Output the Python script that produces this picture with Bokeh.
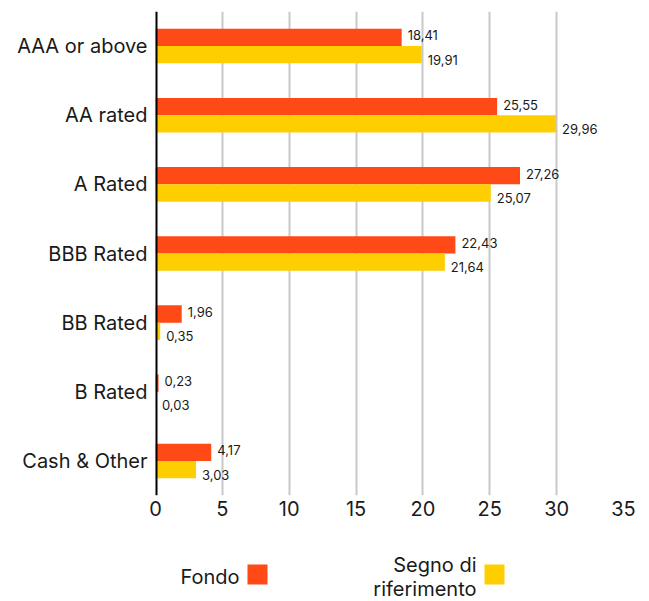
from bokeh.plotting import figure
from bokeh.models import FactorRange, Range1d, ColumnDataSource, Span, FixedTicker
from bokeh.layouts import column
from bokeh.transform import dodge
from bokeh.core.properties import value
from bokeh.embed import file_html
from bokeh.resources import INLINE

categories = ["AAA or above", "AA rated", "A Rated", "BBB Rated", "BB Rated", "B Rated", "Cash & Other"]
fondo = [18.41, 25.55, 27.26, 22.43, 1.96, 0.23, 4.17]
riferimento = [19.91, 29.96, 25.07, 21.64, 0.35, 0.03, 3.03]
series_names = ["Fondo", "Segno di riferimento"]
x_ticks = [0, 5, 10, 15, 20, 25, 30, 35]

ORANGE = "#FF4A17"
YELLOW = "#FFCE00"
FONT = "Inter"
TXT = "#1a1a1a"

def fmt(v):
    return f"{v:.2f}".replace(".", ",")

src = ColumnDataSource(dict(
    cat=categories,
    fondo=fondo,
    rif=riferimento,
    fondo_lbl=[fmt(v) for v in fondo],
    rif_lbl=[fmt(v) for v in riferimento],
))

W = 649
MAIN_H = 530
LEG_H = 71
FRAME_L, FRAME_R = 155, 623

p = figure(
    width=W, height=MAIN_H,
    y_range=FactorRange(factors=list(reversed(categories)), range_padding=0),
    x_range=Range1d(0, 35),
    output_backend="svg", toolbar_location=None,
    min_border_left=FRAME_L, min_border_right=W - FRAME_R, min_border_top=11, min_border_bottom=35,
)
p.outline_line_color = None

p.hbar(y=dodge("cat", 0.125, range=p.y_range), right="fondo", left=0, height=0.25,
       source=src, color=ORANGE, line_color=None)
p.hbar(y=dodge("cat", -0.125, range=p.y_range), right="rif", left=0, height=0.25,
       source=src, color=YELLOW, line_color=None)

p.text(x="fondo", y=dodge("cat", 0.125, range=p.y_range), text="fondo_lbl", source=src,
       x_offset=6, y_offset=-2, text_baseline="middle", text_align="left",
       text_font=value(FONT), text_font_size="13px", text_color=TXT)
p.text(x="rif", y=dodge("cat", -0.125, range=p.y_range), text="rif_lbl", source=src,
       x_offset=6, y_offset=5, text_baseline="middle", text_align="left",
       text_font=value(FONT), text_font_size="13px", text_color=TXT)

p.add_layout(Span(location=0, dimension="height", line_color="black", line_width=4))

p.ygrid.grid_line_color = None
p.xgrid.grid_line_color = "#C8C8C8"
p.xgrid.grid_line_width = 2
p.xgrid.ticker = FixedTicker(ticks=x_ticks)

p.xaxis.ticker = FixedTicker(ticks=x_ticks)
p.xaxis.axis_line_color = None
p.xaxis.major_tick_line_color = None
p.xaxis.minor_tick_line_color = None
p.xaxis.major_tick_out = 0
p.xaxis.major_label_standoff = 5
p.xaxis.major_label_text_font = FONT
p.xaxis.major_label_text_font_size = "20px"
p.xaxis.major_label_text_color = TXT

p.yaxis.axis_line_color = None
p.yaxis.major_tick_line_color = None
p.yaxis.minor_tick_line_color = None
p.yaxis.major_tick_out = 0
p.yaxis.major_label_standoff = 8
p.yaxis.major_label_text_font = FONT
p.yaxis.major_label_text_font_size = "20px"
p.yaxis.major_label_text_color = TXT

# legend strip: data coords == page pixels (frame aligned with main frame)
lg = figure(width=W, height=LEG_H, x_range=Range1d(FRAME_L, FRAME_R),
            y_range=Range1d(MAIN_H + LEG_H, MAIN_H),
            output_backend="svg", toolbar_location=None,
            min_border_left=FRAME_L, min_border_right=W - FRAME_R,
            min_border_top=0, min_border_bottom=0)
lg.axis.visible = False
lg.grid.grid_line_color = None
lg.outline_line_color = None

words = series_names[1].split(" ")
lg.text(x=[239, 476, 476], y=[576, 564, 588],
        text=[series_names[0], " ".join(words[:2]), " ".join(words[2:])],
        text_align="right", text_baseline="middle",
        text_font=value(FONT), text_font_size="20px", text_color=TXT)
lg.rect(x=[257, 494], y=[574, 574], width=20, height=20,
        width_units="screen", height_units="screen",
        color=[ORANGE, YELLOW], line_color=None)

layout = column(p, lg, spacing=0)
open("out.html", "w").write(file_html(layout, INLINE))
